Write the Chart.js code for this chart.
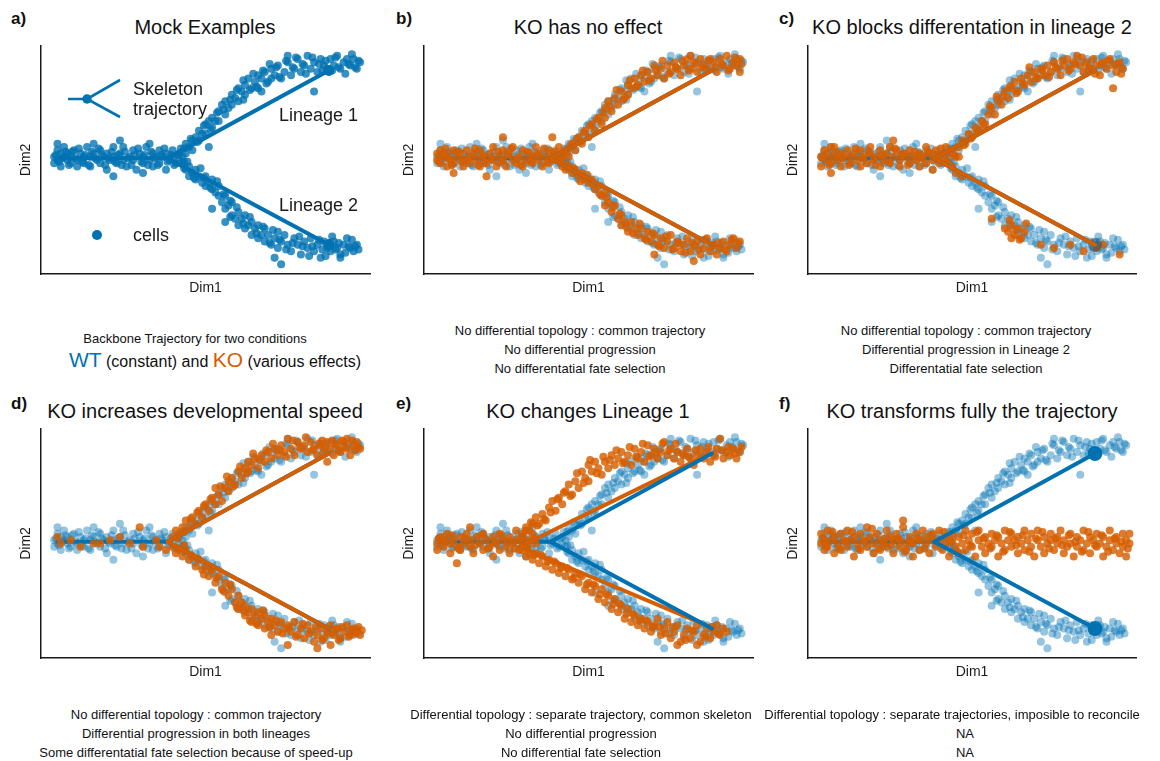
<!DOCTYPE html>
<html>
<head>
<meta charset="utf-8">
<script src="https://cdn.jsdelivr.net/npm/chart.js@4.4.0/dist/chart.umd.min.js"></script>
<style>
  body { margin: 0; background: #fff; font-family: "Liberation Sans", Arial, Helvetica, sans-serif; color: #111; }
  #fig { position: relative; width: 1160px; height: 761px; overflow: hidden; }
  canvas { position: absolute; }
  .lbl { position: absolute; font-weight: bold; font-size: 17px; line-height: 20px; }
  .ttl { position: absolute; font-size: 20px; line-height: 20px; white-space: nowrap; transform: translateX(-50%); }
  .cap { position: absolute; font-size: 13px; line-height: 19px; text-align: center; white-space: nowrap; transform: translateX(-50%); }
  .big { font-size: 21px; line-height: 22px; }
  .mid { font-size: 16px; }
</style>
</head>
<body>
<div id="fig">
  <div class="lbl" style="left:11px;top:9px">a)</div>
  <div class="lbl" style="left:396px;top:9px">b)</div>
  <div class="lbl" style="left:779px;top:9px">c)</div>
  <div class="lbl" style="left:11px;top:394px">d)</div>
  <div class="lbl" style="left:396px;top:394px">e)</div>
  <div class="lbl" style="left:779px;top:394px">f)</div>

  <div class="ttl" style="left:205px;top:17px">Mock Examples</div>
  <div class="ttl" style="left:588px;top:17px">KO has no effect</div>
  <div class="ttl" style="left:972px;top:17px">KO blocks differentation in lineage 2</div>
  <div class="ttl" style="left:205px;top:401px">KO increases developmental speed</div>
  <div class="ttl" style="left:588px;top:401px">KO changes Lineage 1</div>
  <div class="ttl" style="left:972px;top:401px">KO transforms fully the trajectory</div>

  <canvas id="pa"></canvas>
  <canvas id="pb"></canvas>
  <canvas id="pc"></canvas>
  <canvas id="pd"></canvas>
  <canvas id="pe"></canvas>
  <canvas id="pf"></canvas>

  <div class="cap" style="left:195px;top:329px">Backbone Trajectory for two conditions</div>
  <div class="cap big" style="left:215px;top:349px"><span style="color:#0072B2">WT</span><span class="mid"> (constant) and </span><span style="color:#D55E00">KO</span><span class="mid"> (various effects)</span></div>
  <div class="cap" style="left:580px;top:321px">No differential topology : common trajectory<br>No differential progression<br>No differentatial fate selection</div>
  <div class="cap" style="left:966px;top:321px">No differential topology : common trajectory<br>Differential progression in Lineage 2<br>Differentatial fate selection</div>
  <div class="cap" style="left:196px;top:705px">No differential topology : common trajectory<br>Differential progression in both lineages<br>Some differentatial fate selection because of speed-up</div>
  <div class="cap" style="left:581px;top:705px">Differential topology : separate trajectory, common skeleton<br>No differential progression<br>No differential fate selection</div>
  <div class="cap" style="left:952px;top:705px">Differential topology : separate trajectories, imposible to reconcile</div>
  <div class="cap" style="left:965px;top:724px">NA<br>NA</div>
</div>

<script>
/* ---- Données (Dim1 0-100, Dim2 0-70) ---- */

// WT : identique dans tous les panneaux
const wtTrunk = [[4,36],[4,34],[5,38],[5,35],[5,40],[6,37],[6,33],[7,36],[7,39],[8,35],[8,37],[9,34],[9,36],[10,38],[11,35],[11,33],[12,37],[13,36],[13,34],[14,39],[15,36],[15,33],[16,37],[16,40],[17,35],[18,38],[18,34],[19,36],[20,32],[20,37],[21,35],[22,39],[22,36],[22,30],[23,34],[24,37],[24,41],[25,35],[25,39],[26,33],[27,36],[28,38],[28,35],[29,32],[30,37],[31,36],[31,34],[31,31],[32,39],[33,35],[33,40],[34,37],[34,33],[35,36],[36,38],[36,34],[37,36],[38,32],[38,37],[39,35],[40,38],[40,36],[41,34],[42,37],[42,35],[43,36],
  [4.5,36.5],[5.5,34.5],[6.5,35.5],[7.5,37.5],[8.5,33.5],[9.5,37.5],[10.5,35.5],[11.5,38.5],[12.5,34.5],[13.5,36.5],[14.5,33.5],[15.5,37.5],[16.5,35.5],[17.5,38.5],[18.5,36.5],[19.5,33.5],[20.5,35.5],[21.5,37.5],[22.5,34.5],[23.5,36.5],[24.5,33.5],[25.5,37.5],[26.5,35.5],[27.5,33.5],[28.5,36.5],[29.5,38.5],[30.5,34.5],[31.5,36.5],[32.5,33.5],[33.5,37.5],[34.5,35.5],[35.5,33.5],[36.5,36.5],[37.5,38.5],[38.5,34.5],[39.5,36.5],[40.5,33.5],[41.5,36.5],[42.5,38.5],[43.5,34.5]];
const wtLineage1 = [[44,37],[44,40],[45,39],[46,41],[46,38],[47,42],[48,44],[48,41],[49,43],[50,46],[50,43],[51,47],[51,39],[52,45],[52,48],[53,47],[54,50],[54,47],[55,52],[56,49],[56,53],[57,51],[58,55],[58,52],[59,54],[60,57],[60,53],[61,56],[62,58],[62,55],[63,60],[64,57],[65,59],[66,61],[66,57],[67,60],[67,56],[68,62],[69,59],[70,63],[70,60],[71,61],[72,64],[73,60],[74,62],[75,65],[75,67],[76,61],[77,63],[78,66],[79,62],[80,64],[81,67],[82,63],[83,65],[83,56],[84,62],[85,66],[86,64],[87,63],[88,66],[89,64],[90,67],[91,63],[92,65],[93,66],[94,64],[95,66],[96,63],[97,65],
  [43.5,38.5],[45.5,41.5],[47.5,40.5],[49.5,45.5],[51.5,44.5],[53.5,49.5],[55.5,50.5],[57.5,53.5],[59.5,56.5],[61.5,53.5],[61.5,59.5],[63.5,56.5],[64.5,61.5],[65.5,57.5],[67.5,62.5],[68.5,58.5],[69.5,64.5],[71.5,63.5],[72.5,60.5],[74.5,65.5],[76.5,63.5],[77.5,66.5],[79.5,64.5],[80.5,61.5],[82.5,66.5],[84.5,64.5],[85.5,62.5],[86.5,65.5],[88.5,62.5],[89.5,66.5],[90.5,63.5],[92.5,61.5],[93.5,64.5],[94.5,67.5],[95.5,63.5],[96.5,65.5]];
const wtLineage2 = [[43,34],[44,32],[45,33],[45,30],[46,31],[47,32],[47,29],[48,30],[49,28],[50,30],[50,27],[51,28],[52,26],[52,29],[52,20],[53,25],[54,27],[54,24],[55,22],[56,24],[56,20],[56,16],[57,21],[58,18],[58,22],[59,17],[60,19],[60,15],[61,17],[62,14],[62,18],[63,15],[64,12],[64,16],[65,14],[66,11],[66,15],[67,12],[68,10],[68,14],[69,12],[70,9],[71,11],[71,5],[72,13],[72,8],[73,10],[73,3],[74,12],[75,9],[76,7],[77,11],[78,9],[79,6],[80,10],[81,8],[82,11],[83,7],[84,9],[85,5],[86,10],[87,8],[88,9],[88,7],[89,10],[90,8],[91,6],[91,5],[92,9],[93,11],[94,8],[95,7],[96,9],
  [43.5,32.5],[44.5,34.5],[46.5,29.5],[48.5,32.5],[49.5,29.5],[51.5,26.5],[53.5,28.5],[55.5,24.5],[57.5,22.5],[57.5,17.5],[59.5,20.5],[61.5,15.5],[63.5,17.5],[65.5,12.5],[67.5,14.5],[69.5,9.5],[70.5,13.5],[72.5,10.5],[74.5,7.5],[76.5,9.5],[78.5,11.5],[79.5,8.5],[81.5,5.5],[82.5,8.5],[84.5,10.5],[85.5,7.5],[86.5,5.5],[87.5,9.5],[88.5,11.5],[89.5,7.5],[90.5,9.5],[92.5,6.5],[93.5,8.5],[94.5,10.5],[95.5,8.5],[96.5,7.5]];

// squelette WT : tronc, lignée 1, lignée 2
const skelTrunk = [[5,35.5],[38.5,35.5]];
const skelL1 = [[38.5,35.5],[87.5,62.5]];
const skelL2 = [[38.5,35.5],[87.5,9]];

// b) KO sans effet
const koSameTrunk = [[4,35],[4,37],[5,34],[5,38],[6,36],[7,33],[7,37],[8,35],[9,38],[9,34],[9,31],[10,36],[11,37],[12,33],[12,35],[13,38],[14,36],[14,34],[15,37],[16,35],[17,33],[17,38],[18,36],[19,34],[19,30],[20,37],[21,35],[21,39],[22,33],[23,36],[24,38],[24,35],[24,42],[25,33],[26,37],[27,35],[27,39],[28,34],[29,36],[30,38],[30,33],[31,35],[32,37],[33,36],[33,34],[34,39],[35,35],[35,37],[36,33],[37,36],[38,38],[38,34],[39,36],[39,42],[40,37],[40,35],[41,39],[42,36],[42,33],
  [4.5,34.5],[5.5,36.5],[6.5,38.5],[7.5,35.5],[8.5,33.5],[10.5,37.5],[11.5,34.5],[13.5,35.5],[15.5,38.5],[16.5,33.5],[17.5,36.5],[18.5,34.5],[20.5,35.5],[22.5,37.5],[23.5,34.5],[25.5,36.5],[26.5,38.5],[28.5,35.5],[29.5,33.5],[31.5,37.5],[32.5,34.5],[34.5,36.5],[36.5,38.5],[37.5,34.5],[39.5,37.5],[41.5,35.5],[43.5,37.5]];
const koSameL1 = [[43,38],[44,36],[45,40],[46,38],[47,42],[48,40],[49,44],[50,42],[51,46],[52,44],[53,48],[54,46],[55,51],[55,48],[56,53],[57,50],[58,54],[59,52],[60,56],[61,54],[62,58],[62,55],[63,57],[64,60],[65,58],[66,61],[67,59],[68,62],[69,60],[70,64],[71,61],[72,63],[73,60],[74,64],[75,62],[76,65],[77,63],[78,61],[79,64],[80,66],[81,63],[81,67],[82,65],[83,62],[84,66],[85,64],[86,63],[87,66],[88,65],[89,62],[90,66],[91,64],[92,67],[93,63],[94,65],[95,64],[96,66],[96,62],
  [44.5,39.5],[46.5,41.5],[48.5,43.5],[50.5,45.5],[52.5,47.5],[54.5,49.5],[56.5,51.5],[58.5,56.5],[60.5,53.5],[62.5,59.5],[64.5,57.5],[66.5,62.5],[68.5,59.5],[70.5,62.5],[72.5,65.5],[74.5,61.5],[76.5,63.5],[78.5,65.5],[80.5,62.5],[82.5,64.5],[84.5,63.5],[86.5,65.5],[88.5,63.5],[90.5,64.5],[92.5,62.5],[94.5,66.5],[96.5,64.5]];
const koSameL2 = [[42,34],[43,32],[44,33],[45,31],[46,32],[47,30],[48,31],[49,29],[50,28],[51,29],[52,26],[53,27],[54,24],[55,25],[55,21],[56,22],[57,19],[58,21],[59,17],[60,18],[60,15],[61,16],[62,13],[63,16],[64,14],[65,12],[66,14],[67,11],[68,13],[69,10],[70,12],[70,6],[71,9],[72,11],[73,8],[74,10],[75,12],[76,8],[77,10],[78,7],[79,9],[80,11],[81,7],[82,4],[82,9],[83,10],[84,6],[85,8],[86,11],[87,7],[88,9],[89,6],[90,8],[91,10],[92,7],[93,9],[94,11],[95,8],[96,10],
  [43.5,33.5],[45.5,32.5],[47.5,28.5],[49.5,30.5],[51.5,27.5],[53.5,24.5],[55.5,23.5],[57.5,20.5],[59.5,18.5],[61.5,14.5],[63.5,12.5],[65.5,15.5],[67.5,10.5],[69.5,12.5],[71.5,8.5],[73.5,11.5],[75.5,7.5],[77.5,9.5],[79.5,6.5],[81.5,9.5],[83.5,7.5],[85.5,10.5],[87.5,8.5],[89.5,9.5],[91.5,7.5],[93.5,10.5],[95.5,9.5]];

// c) KO bloque la lignée 2
const koBlockTrunk = [[4,36],[4,33],[5,38],[6,35],[6,37],[7,34],[7,39],[7,31],[8,36],[8,39],[9,35],[10,37],[10,33],[11,36],[12,38],[13,34],[13,36],[14,37],[15,35],[16,38],[16,33],[17,36],[18,34],[19,37],[19,39],[20,35],[21,36],[22,33],[22,38],[23,35],[24,37],[25,34],[25,39],[26,36],[26,41],[27,38],[28,35],[28,33],[29,37],[30,36],[31,34],[31,38],[32,36],[33,35],[34,37],[34,33],[35,36],[36,39],[36,34],[37,37],[38,35],[38,32],[39,38],[40,36],[40,34],[41,37],[42,35],[42,39],[43,37],[44,38],[45,36],[46,36],
  [4.5,35.5],[6.5,33.5],[8.5,37.5],[10.5,35.5],[12.5,33.5],[14.5,38.5],[16.5,35.5],[18.5,37.5],[20.5,33.5],[22.5,36.5],[24.5,34.5],[26.5,38.5],[28.5,36.5],[30.5,33.5],[32.5,37.5],[34.5,35.5],[36.5,37.5],[38.5,36.5],[40.5,38.5],[42.5,34.5],[44.5,36.5]];
const koBlockL1 = [[46,39],[47,41],[48,40],[49,43],[50,42],[51,45],[52,44],[53,47],[54,46],[55,49],[56,51],[57,49],[58,53],[59,52],[60,56],[61,54],[62,57],[63,59],[64,56],[65,60],[66,58],[67,61],[68,59],[69,62],[70,60],[71,63],[72,61],[73,64],[74,62],[75,65],[76,63],[77,61],[78,64],[79,66],[80,63],[81,65],[82,67],[83,64],[84,62],[85,65],[86,63],[87,66],[88,64],[89,61],[90,65],[91,63],[92,66],[93,64],[93,57],[94,62],[95,65],[96,63],
  [47.5,39.5],[49.5,41.5],[51.5,43.5],[53.5,45.5],[55.5,51.5],[57.5,54.5],[59.5,54.5],[61.5,57.5],[63.5,55.5],[65.5,58.5],[67.5,63.5],[69.5,60.5],[71.5,62.5],[73.5,60.5],[75.5,63.5],[77.5,65.5],[79.5,62.5],[81.5,64.5],[83.5,66.5],[85.5,63.5],[87.5,61.5],[89.5,64.5],[91.5,65.5],[94.5,64.5],[95.5,61.5]];
const koBlockL2 = [[44,33],[45,31],[47,30],[56,17],[60,14],[61,13],[61.5,16.5],[62,15],[62,11],[63,12],[63.5,13.5],[64,14],[64.5,10.5],[65,11],[66,13],[66.5,15.5],[71,9],[75,8],[80,9],[84,7],[88,8],[90,9],[95,6]];

// d) KO accélère le développement
const koFastTrunk = [[5,37],[6,35],[9,36],[12,34],[16,35],[18,35],[21,36],[24,37],[27,35],[30,40],[31,34],[35,36],[36,34],[38,33]];
const koFastL1 = [[40,37],[41,39],[42,38],[43,40],[44,42],[45,40],[46,43],[47,41],[48,45],[49,43],[50,47],[51,45],[52,49],[53,47],[53,52],[54,50],[55,48],[56,52],[57,54],[57,51],[58,55],[59,53],[60,57],[61,55],[62,58],[63,60],[63,57],[64,59],[65,61],[66,58],[67,62],[68,60],[69,63],[70,61],[71,64],[72,62],[73,65],[74,63],[75,67],[76,64],[77,62],[78,66],[79,64],[80,65],[81,63],[82,66],[83,64],[84,62],[85,65],[86,63],[87,66],[87,60],[88,64],[89,62],[90,65],[91,63],[92,66],[93,64],[93,67],[94,62],[95,65],[96,66],[97,64],
  [41.5,36.5],[43.5,38.5],[45.5,42.5],[47.5,44.5],[49.5,46.5],[51.5,48.5],[54.5,52.5],[56.5,55.5],[58.5,52.5],[60.5,58.5],[62.5,56.5],[64.5,62.5],[66.5,60.5],[68.5,63.5],[70.5,65.5],[72.5,63.5],[74.5,61.5],[76.5,66.5],[78.5,64.5],[80.5,67.5],[82.5,63.5],[84.5,65.5],[85.5,66.5],[86.5,64.5],[88.5,66.5],[89.5,65.5],[90.5,63.5],[91.5,66.5],[92.5,64.5],[94.5,66.5],[95.5,63.5],[96.5,64.5]];
const koFastL2 = [[40,34],[41,32],[42,33],[43,31],[44,33],[45,30],[46,31],[47,28],[48,30],[49,27],[50,28],[51,25],[52,27],[53,23],[54,25],[55,21],[56,23],[57,19],[58,21],[59,17],[60,19],[60,15],[61,17],[62,13],[62,16],[63,14],[64,11],[64,15],[65,13],[66,10],[66,14],[67,12],[68,9],[68,13],[69,11],[70,7],[70,12],[71,10],[72,8],[73,11],[74,9],[75,4],[75,10],[76,8],[77,11],[78,7],[79,9],[80,6],[81,10],[82,8],[83,5],[84,7],[84,3],[85,9],[86,6],[87,8],[88,4],[88,10],[89,7],[90,9],[91,6],[92,8],[93,10],[94,7],[95,9],[96,8],[97,7],
  [41.5,33.5],[43.5,34.5],[45.5,31.5],[47.5,30.5],[49.5,25.5],[51.5,27.5],[53.5,24.5],[55.5,20.5],[57.5,22.5],[59.5,15.5],[61.5,14.5],[63.5,11.5],[65.5,10.5],[67.5,14.5],[69.5,9.5],[71.5,11.5],[73.5,7.5],[75.5,9.5],[77.5,6.5],[79.5,10.5],[81.5,7.5],[83.5,9.5],[85.5,5.5],[87.5,7.5],[89.5,8.5],[90.5,5.5],[91.5,9.5],[93.5,6.5],[94.5,8.5],[95.5,7.5],[96.5,9.5],[97.5,8.5]];

// e) KO modifie la lignée 1
const koShiftTrunk = [[4,35],[4,33],[5,37],[6,34],[6,36],[7,38],[8,35],[8,32],[9,36],[10,34],[10,29],[11,37],[11,33],[12,35],[13,38],[14,34],[14,36],[14,40],[15,32],[16,37],[17,35],[18,33],[18,38],[19,36],[20,34],[21,37],[21,31],[22,35],[23,38],[23,33],[24,36],[25,34],[26,37],[26,32],[27,35],[28,39],[28,36],[29,33],[30,37],[30,35],[31,39],[32,36],[33,38],[34,35],
  [4.5,36.5],[6.5,35.5],[8.5,37.5],[10.5,33.5],[12.5,36.5],[15.5,34.5],[17.5,37.5],[19.5,33.5],[21.5,35.5],[23.5,37.5],[25.5,35.5],[27.5,33.5],[29.5,36.5],[31.5,34.5],[33.5,36.5]];
const koShiftL1 = [[30,38],[31,40],[32,39],[33,41],[34,43],[35,41],[36,44],[37,42],[38,46],[39,48],[40,45],[41,49],[42,47],[43,51],[44,53],[45,50],[46,54],[47,52],[48,57],[49,55],[50,59],[50,54],[51,57],[52,60],[53,58],[54,56],[55,60],[56,58],[57,62],[58,59],[59,61],[60,63],[61,60],[62,62],[63,59],[64,64],[65,61],[66,63],[67,60],[68,65],[69,62],[70,64],[71,61],[72,63],[73,66],[74,62],[75,64],[76,61],[77,63],[78,60],[79,62],[80,64],[81,61],[82,59],[83,62],[84,64],[85,61],[86,63],[87,60],[88,62],[89,64],[90,67],[91,61],[92,63],[93,62],[94,64],[95,61],[96,63],
  [32.5,41.5],[34.5,40.5],[36.5,42.5],[38.5,44.5],[40.5,48.5],[42.5,50.5],[44.5,49.5],[46.5,56.5],[48.5,53.5],[50.5,60.5],[52.5,56.5],[54.5,61.5],[56.5,60.5],[58.5,63.5],[60.5,59.5],[62.5,64.5],[64.5,61.5],[66.5,65.5],[68.5,61.5],[70.5,62.5],[72.5,65.5],[74.5,63.5],[76.5,65.5],[78.5,62.5],[80.5,61.5],[82.5,63.5],[84.5,61.5],[86.5,64.5],[88.5,61.5],[90.5,63.5],[92.5,64.5],[94.5,62.5],[96.5,64.5]];
const koShiftL2 = [[30,33],[31,31],[32,32],[33,30],[34,32],[35,29],[36,31],[37,28],[38,30],[39,27],[40,29],[41,26],[42,28],[43,25],[44,27],[45,24],[46,26],[47,23],[48,25],[49,21],[50,23],[51,20],[52,22],[53,18],[54,21],[55,17],[56,19],[57,15],[58,18],[59,14],[60,16],[61,12],[62,15],[63,11],[64,13],[65,10],[66,12],[67,9],[68,11],[69,8],[70,10],[71,12],[72,7],[73,9],[74,11],[75,6],[76,8],[77,10],[77,4],[78,5],[79,7],[80,9],[81,6],[82,8],[83,10],[83,4],[84,5],[85,7],[86,9],[87,6],[88,8],[89,10],[90,7],[91,9],[92,8],
  [31.5,33.5],[33.5,31.5],[35.5,31.5],[37.5,29.5],[39.5,29.5],[41.5,27.5],[43.5,27.5],[45.5,24.5],[47.5,25.5],[49.5,22.5],[51.5,22.5],[53.5,19.5],[55.5,19.5],[57.5,16.5],[59.5,16.5],[61.5,13.5],[63.5,13.5],[65.5,11.5],[67.5,11.5],[69.5,9.5],[71.5,9.5],[73.5,7.5],[75.5,9.5],[79.5,5.5],[81.5,8.5],[85.5,6.5],[87.5,9.5],[89.5,7.5]];
const koShiftSkelL1 = [[29,34],[86,62]];
const koShiftSkelL2 = [[29,34],[87,9.5]];

// f) KO : une seule bande horizontale
const koFlat = [[4,35],[4,38],[5,33],[5,36],[6,39],[6,34],[7,36],[8,32],[8,37],[9,35],[10,38],[10,33],[11,36],[12,34],[12,39],[13,36],[14,31],[14,37],[15,35],[16,38],[16,33],[17,36],[18,34],[18,40],[19,37],[20,35],[20,32],[21,38],[22,36],[22,33],[23,35],[24,39],[24,34],[25,37],[26,32],[26,36],[27,38],[28,34],[28,36],[29,40],[29,42],[30,35],[30,33],[31,37],[32,35],[32,31],[33,38],[34,36],[34,33],[35,39],[36,35],[36,37],[37,32],[38,36],[38,38],[39,34],[40,36],[40,39],[41,33],[42,37],[42,35],[43,31],[44,38],[44,36],[45,34],[46,37],[46,32],[47,35],[48,39],[48,33],[49,36],[50,34],[50,38],[51,31],[52,36],[52,39],[53,34],[54,37],[54,32],[55,35],[56,38],[56,34],[57,36],[58,31],[58,37],[59,35],[60,39],[60,33],[61,36],[62,34],[62,38],[63,36],[64,32],[64,37],[65,35],[66,39],[66,33],[67,36],[68,34],[68,38],[69,31],[70,36],[70,39],[71,34],[72,37],[72,32],[73,35],[74,38],[74,36],[75,33],[76,37],[76,35],[77,39],[78,32],[78,36],[79,34],[80,38],[80,35],[81,31],[82,37],[82,34],[83,36],[84,39],[84,33],[85,35],[86,37],[86,32],[87,36],[88,34],[88,38],[89,35],[90,31],[90,37],[91,34],[92,39],[92,36],[93,33],[94,37],[94,35],[95,32],[96,38],[96,34],[97,36],[97,31],[98,35],[98,38],
  [4.5,36.5],[5.5,34.5],[7.5,38.5],[9.5,33.5],[11.5,35.5],[13.5,38.5],[15.5,33.5],[17.5,35.5],[19.5,39.5],[21.5,33.5],[23.5,36.5],[25.5,34.5],[27.5,36.5],[29.5,32.5],[31.5,35.5],[33.5,36.5],[35.5,33.5],[37.5,37.5],[39.5,35.5],[41.5,38.5],[43.5,35.5],[45.5,32.5],[47.5,37.5],[49.5,34.5],[51.5,38.5],[53.5,36.5],[55.5,33.5],[57.5,37.5],[59.5,32.5],[61.5,38.5],[63.5,34.5],[65.5,37.5],[67.5,32.5],[69.5,36.5],[71.5,38.5],[73.5,33.5],[75.5,36.5],[77.5,34.5],[79.5,37.5],[81.5,35.5],[83.5,32.5],[85.5,38.5],[87.5,34.5],[89.5,37.5],[91.5,32.5],[93.5,36.5],[95.5,35.5],[97.5,33.5]];

/* ---- Couleurs ---- */
const WT_LINE = '#0072B2';
const KO_LINE = '#D55E00';
const WT_SOLID = 'rgba(0,114,178,0.78)';
const WT_FADED = 'rgba(0,114,178,0.42)';
const KO_CELL = 'rgba(213,94,0,0.82)';
const INK = '#1a1a1a';
const FONT = '"Liberation Sans", Arial, Helvetica, sans-serif';

Chart.defaults.font.family = FONT;

const pts = arr => arr.map(([x, y]) => ({ x, y }));

function cells(data, color, order) {
  return { data: pts(data), backgroundColor: color, borderWidth: 0, pointRadius: 4, order };
}

function skeleton(path, color, order, nodeRadius = 0) {
  return {
    data: pts(path),
    showLine: true,
    borderColor: color,
    borderWidth: 4,
    borderCapStyle: 'round',
    backgroundColor: color,
    pointBackgroundColor: color,
    pointBorderWidth: 0,
    pointRadius: path.map((_, i) => (i === path.length - 1 ? nodeRadius : 0)),
    order,
  };
}

/* ---- Légende du panneau a ---- */
const mockLegend = {
  id: 'mockLegend',
  afterDatasetsDraw(chart) {
    const { ctx, chartArea: { left, top } } = chart;
    ctx.save();
    ctx.strokeStyle = WT_LINE;
    ctx.fillStyle = WT_LINE;
    ctx.lineWidth = 2.6;
    ctx.beginPath();
    ctx.moveTo(left + 27, top + 53);
    ctx.lineTo(left + 46, top + 53);
    ctx.moveTo(left + 79, top + 34);
    ctx.lineTo(left + 46, top + 53);
    ctx.lineTo(left + 79, top + 71);
    ctx.stroke();
    ctx.beginPath();
    ctx.arc(left + 46, top + 53, 4.7, 0, Math.PI * 2);
    ctx.fill();
    ctx.beginPath();
    ctx.arc(left + 56, top + 189, 5, 0, Math.PI * 2);
    ctx.fill();

    ctx.fillStyle = INK;
    ctx.font = '18px ' + FONT;
    ctx.textBaseline = 'alphabetic';
    ctx.fillText('Skeleton', left + 92, top + 49);
    ctx.fillText('trajectory', left + 92, top + 69);
    ctx.fillText('Lineage 1', left + 238, top + 75);
    ctx.fillText('Lineage 2', left + 238, top + 165);
    ctx.fillText('cells', left + 92, top + 195);
    ctx.restore();
  },
};

/* ---- Construction d'un panneau ---- */
function axis(label, max) {
  return {
    type: 'linear',
    min: 0,
    max,
    grid: { display: false, drawTicks: false },
    ticks: { display: false },
    border: { display: true, color: INK, width: 1.5 },
    title: { display: true, text: label, color: INK, font: { size: 14 }, padding: { top: 6, bottom: 6 } },
  };
}

function buildPanel(id, box, datasets, plugins = []) {
  const [L, T, R, B] = box;
  const cv = document.getElementById(id);
  const w = R - L + 57, h = B - T + 52;
  cv.width = w;
  cv.height = h;
  cv.style.left = (L - 45) + 'px';
  cv.style.top = (T - 12) + 'px';
  cv.style.width = w + 'px';
  cv.style.height = h + 'px';

  return new Chart(cv, {
    type: 'scatter',
    data: { datasets },
    options: {
      responsive: false,
      animation: false,
      events: [],
      layout: { padding: { left: 16.2, top: 12, right: 12, bottom: 11.2 } },
      plugins: { legend: { display: false }, tooltip: { enabled: false } },
      scales: { x: axis('Dim1', 100), y: axis('Dim2', 70) },
    },
    plugins,
  });
}

// le tronc passe sous les cellules, les lignées au-dessus
const wtSkeleton = (order, node = 0) => [
  skeleton(skelTrunk, WT_LINE, 20),
  skeleton(skelL1, WT_LINE, order, node),
  skeleton(skelL2, WT_LINE, order, node),
];
const wtCells = color => [
  cells(wtTrunk, color, 9),
  cells(wtLineage1, color, 9),
  cells(wtLineage2, color, 9),
];

// a) Mock
buildPanel('pa', [41, 46, 370, 274], [
  ...wtSkeleton(1, 5.5),
  ...wtCells(WT_SOLID),
], [mockLegend]);

// b) KO sans effet
buildPanel('pb', [424, 46, 753, 274], [
  skeleton(skelL1, KO_LINE, 0),
  skeleton(skelL2, KO_LINE, 0),
  ...wtSkeleton(1),
  cells(koSameTrunk, KO_CELL, 5),
  cells(koSameL1, KO_CELL, 5),
  cells(koSameL2, KO_CELL, 5),
  ...wtCells(WT_FADED),
]);

// c) KO bloque la lignée 2
buildPanel('pc', [808, 46, 1136, 274], [
  skeleton(skelL1, KO_LINE, 0),
  skeleton(skelL2, KO_LINE, 0),
  ...wtSkeleton(1),
  { ...cells([skelL2[1]], 'rgba(40,80,110,0.55)', 2), pointRadius: 7 },
  cells(koBlockTrunk, KO_CELL, 5),
  cells(koBlockL1, KO_CELL, 5),
  cells(koBlockL2, KO_CELL, 5),
  ...wtCells(WT_FADED),
]);

// d) KO accélère
buildPanel('pd', [41, 429, 370, 658], [
  skeleton(skelL1, KO_LINE, 0),
  skeleton(skelL2, KO_LINE, 0),
  ...wtSkeleton(1),
  cells(koFastTrunk, KO_CELL, 5),
  cells(koFastL1, KO_CELL, 5),
  cells(koFastL2, KO_CELL, 5),
  ...wtCells(WT_FADED),
]);

// e) KO modifie la lignée 1
buildPanel('pe', [424, 429, 753, 658], [
  ...wtSkeleton(0),
  skeleton(koShiftSkelL1, KO_LINE, 1),
  skeleton(koShiftSkelL2, KO_LINE, 1),
  cells(koShiftTrunk, KO_CELL, 5),
  cells(koShiftL1, KO_CELL, 5),
  cells(koShiftL2, KO_CELL, 5),
  ...wtCells(WT_FADED),
]);

// f) KO transforme la trajectoire
buildPanel('pf', [808, 429, 1136, 658], [
  ...wtSkeleton(0, 7.5),
  cells(koFlat, KO_CELL, 5),
  ...wtCells(WT_FADED),
]);
</script>
</body>
</html>
